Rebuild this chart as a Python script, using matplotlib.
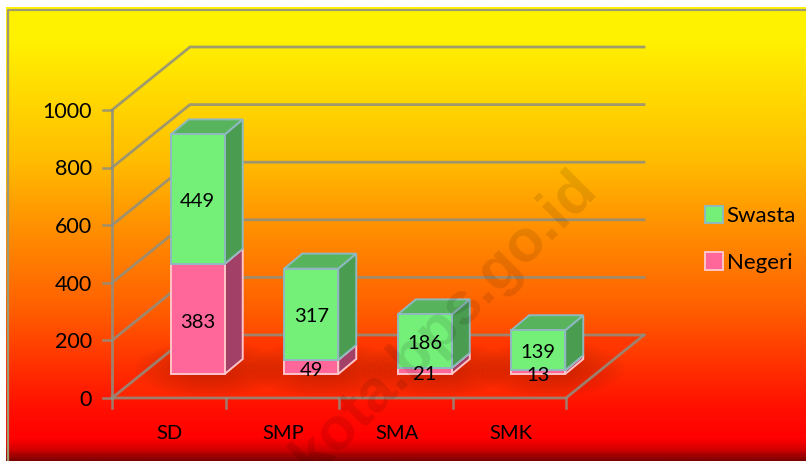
import numpy as np
import matplotlib
matplotlib.use("Agg")
import matplotlib.pyplot as plt
from matplotlib.patches import Polygon, Ellipse, Patch
from matplotlib.colors import LinearSegmentedColormap

categories = ["SD", "SMP", "SMA", "SMK"]
negeri = [383, 49, 21, 13]
swasta = [449, 317, 186, 139]
y_ticks = [0, 200, 400, 600, 800, 1000]

W, H = 806, 461
plt.rcParams['font.family'] = ['Lato', 'DejaVu Sans']
fig = plt.figure(figsize=(W/100, H/100), dpi=100, facecolor='white')

# background
bg = fig.add_axes([0, 0, 1, 1])
bg.set_xlim(0, W); bg.set_ylim(H, 0); bg.axis('off')
stops = [(0, '#fff200'), (30/453, '#fff200'), (150/453, '#ffbe00'), (220/453, '#ff9000'),
         (300/453, '#ff6000'), (400/453, '#ff1000'), (432/453, '#ff0000'), (442/453, '#d80000'), (1, '#800000')]
cmap = LinearSegmentedColormap.from_list('bg', stops)
bg.imshow(np.linspace(0, 1, 453)[:, None], cmap=cmap, aspect='auto', extent=(6, W, H, 8), zorder=0)
bg.set_xlim(0, W); bg.set_ylim(H, 0)
bg.plot([7.5, 7.5, W], [H, 10, 10], color='#a09a70', lw=1.6, zorder=1)

# chart axes: category index on x, value on y
PX_X = 113.5      # pixels per category
PX_Y = 0.288      # pixels per unit
X0, Y0 = 112, 398
ax = fig.add_axes([0, 0, 1, 1])
ax.patch.set_alpha(0); ax.axis('off')
ax.set_xlim(-0.5 - X0/PX_X, -0.5 + (W - X0)/PX_X)
ax.set_ylim(-(H - Y0)/PX_Y, Y0/PX_Y)

dx_wall, dy_wall = 78/PX_X, 63/PX_Y
dx_base, dy_base = 29/PX_X, 24/PX_Y
dx_bar, dy_bar = 18/PX_X, 15/PX_Y
half = 27/PX_X
xl, xr = -0.5, 3.5
GRID = (0.56, 0.56, 0.50, 0.85)

# floor
ax.add_patch(Polygon([(xl, 0), (xr, 0), (xr+dx_wall, dy_wall), (xl+dx_wall, dy_wall)],
                     closed=True, fc='#ff3000', ec='none', alpha=0.6, zorder=1))
# shadows
for i, t in enumerate(np.array(negeri) + np.array(swasta)):
    for k in range(14):
        f = 1 - k/14
        ax.add_patch(Ellipse((i + dx_base + 12/PX_X, dy_base + 5/PX_Y), (150*f)/PX_X, (56*f)/PX_Y,
                             fc='#801800', ec='none', alpha=0.035, zorder=2))
# walls and grid
for v in y_ticks:
    ax.plot([xl, xl+dx_wall, xr+dx_wall], [v, v+dy_wall, v+dy_wall], color=GRID, lw=2.0, zorder=3,
            solid_joinstyle='miter')
    ax.plot([xl-9/PX_X, xl], [v, v], color=GRID, lw=1.8, zorder=3)
    ax.text(xl-20/PX_X, v-6, str(v), ha='right', va='center', fontsize=15.5, color='black', zorder=8)
ax.plot([xl, xl], [0, 1000], color=GRID, lw=2.0, zorder=3)
ax.plot([xl, xr, xr+dx_wall], [0, 0, dy_wall], color=GRID, lw=2.0, zorder=3)
for i in range(5):
    ax.plot([xl+i, xl+i], [0, -10/PX_Y], color=GRID, lw=1.8, zorder=3)
for i, c in enumerate(categories):
    ax.text(i + 0.01, -122, c, ha='center', va='center', fontsize=14.5, color='black', zorder=8)

def box(i, lo, hi, face, top, side, edge, z):
    xa, xb = i + dx_base - half, i + dx_base + half
    ya, yb = lo + dy_base, hi + dy_base
    ax.add_patch(Polygon([(xb, ya), (xb+dx_bar, ya+dy_bar), (xb+dx_bar, yb+dy_bar), (xb, yb)],
                         closed=True, fc=side, ec=edge, lw=1.4, zorder=z))
    ax.add_patch(Polygon([(xa, yb), (xb, yb), (xb+dx_bar, yb+dy_bar), (xa+dx_bar, yb+dy_bar)],
                         closed=True, fc=top, ec=edge, lw=1.4, zorder=z))
    ax.add_patch(Polygon([(xa, ya), (xb, ya), (xb, yb), (xa, yb)],
                         closed=True, fc=face, ec=edge, lw=1.4, zorder=z+0.1))

G = ('#74ef78', '#58b45c', '#4a9c50', '#8fb8c0')
P = ('#ff6699', '#c05080', '#a34068', '#ffc4c8')
for i, (n, s) in enumerate(zip(negeri, swasta)):
    box(i, 0, n, *P, 4)
    box(i, n, n+s, *G, 5)
    xc = i + dx_base
    ax.text(xc, n/2 + dy_base - 12, str(n), ha='center', va='center',
            fontsize=14.5, color='black', zorder=8)
    ax.text(xc, n + s/2 + dy_base - 8, str(s), ha='center', va='center',
            fontsize=14.5, color='black', zorder=8)

# legend
handles = [Patch(fc=G[0], ec=G[3], lw=1.4), Patch(fc=P[0], ec=P[3], lw=1.4)]
leg = ax.legend(handles, ['Swasta', 'Negeri'], loc='upper left', bbox_to_anchor=(705/W, 1-206/H),
                frameon=False, fontsize=16, handlelength=0.82, handleheight=0.82, handletextpad=0.15,
                labelspacing=1.17, borderpad=0, borderaxespad=0)
leg.set_zorder(9)

# watermark
t = ax.text(*ax.transData.inverted().transform((445, H-322)), 'kota.bps.go.id', rotation=45,
            rotation_mode='anchor', ha='center', va='center', family='Liberation Sans', weight='bold',
            fontsize=43, color='black', alpha=0.1, zorder=10)

fig.savefig('out.png', dpi=100)
